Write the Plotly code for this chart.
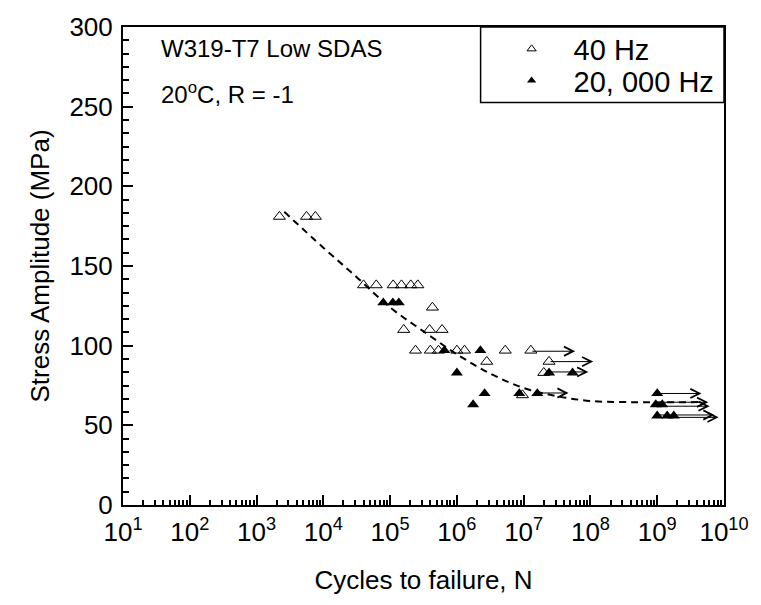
import numpy as np
import plotly.graph_objects as go

# ---------------- data ----------------
# 40 Hz (open triangles)
n_40 = [2.2e3, 5.6e3, 7.6e3,
        4.0e4, 6.2e4, 1.11e5, 1.48e5, 2.04e5, 2.6e5,
        4.3e5,
        1.6e5, 3.9e5, 6.0e5,
        2.4e5, 4.0e5, 5.3e5, 1.0e6, 1.3e6, 5.3e6, 1.28e7,
        2.8e6, 2.4e7,
        2.0e7,
        9.6e6]
s_40 = [181, 181, 181,
        138, 138, 138, 138, 138, 138,
        124,
        110, 110, 110,
        97, 97, 97, 97, 97, 97, 97,
        90, 90,
        83,
        69]

# 20,000 Hz (filled triangles)
n_20k = [7.9e4, 1.1e5, 1.35e5,
         6.5e5, 2.25e6,
         1.0e6, 2.4e7, 5.4e7,
         2.6e6, 8.6e6, 1.6e7,
         1.75e6,
         1.0e9,
         9.5e8, 1.19e9,
         1.0e9, 1.41e9, 1.77e9]
s_20k = [127, 127, 127,
         97, 97,
         83, 83, 83,
         70, 70, 70,
         63,
         70,
         63, 63,
         56, 56, 56]

# run-outs (arrows)
run_start = [1.28e7, 2.4e7, 2.4e7, 1.6e7, 1.0e9, 9.5e8, 1.19e9, 1.0e9, 1.77e9]
run_end = [5.9e7, 1.1e8, 9.3e7, 4.7e7, 4.6e9, 5.8e9, 6.1e9, 7.2e9, 8.3e9]
run_s = [96.5, 90, 83.5, 70.3, 70, 64.5, 62, 56.5, 55]

# fitted trend (dashed)
fit_n = [2.6e3, 1e4, 3.16e4, 1e5, 3.16e5, 1e6, 3.16e6, 1e7, 3.16e7, 1e8, 3.16e8, 1e9, 4.1e9]
fit_s = [184, 161.5, 143, 124, 109, 94.6, 82.5, 73.4, 68.3, 65.3, 64.6, 64.4, 64.6]

# axis ticks
x_tickvals = [10 ** k for k in range(1, 11)]
x_ticktext = ["10<sup>%d</sup>" % k for k in range(1, 11)]
x_minor = [m * 10 ** k for k in range(1, 10) for m in range(2, 10)]
y_tickvals = [0, 50, 100, 150, 200, 250, 300]

FONT = "Liberation Sans, Arial, sans-serif"

fig = go.Figure()

fig.add_trace(go.Scatter(
    x=fit_n, y=fit_s, mode="lines", line=dict(color="black", width=2, dash="7px,5px", shape="spline"),
    showlegend=False, hoverinfo="skip"))

fig.add_trace(go.Scatter(
    x=n_40, y=s_40, mode="markers", name="40 Hz", showlegend=False,
    marker=dict(symbol="triangle-up-open", size=10.5, color="black", line=dict(width=1, color="black"))))

fig.add_trace(go.Scatter(
    x=n_20k, y=s_20k, mode="markers", name="20, 000 Hz", showlegend=False,
    marker=dict(symbol="triangle-up", size=10.5, color="black", line=dict(width=0))))

# legend-only entries with small symbols
fig.add_trace(go.Scatter(
    x=[None], y=[None], mode="markers", name="40 Hz", legend="legend",
    marker=dict(symbol="triangle-up-open", size=8, color="black", line=dict(width=1, color="black"))))
fig.add_trace(go.Scatter(
    x=[None], y=[None], mode="markers", name="20, 000 Hz", legend="legend2",
    marker=dict(symbol="triangle-up", size=8, color="black")))

annotations = []
for a, b, s in zip(run_start, run_end, run_s):
    annotations.append(dict(
        x=np.log10(b), y=s, ax=np.log10(a), ay=s, xref="x", yref="y", axref="x", ayref="y",
        text="", showarrow=True, arrowhead=5, arrowsize=1.8, arrowwidth=1, arrowcolor="black",
        standoff=0, startstandoff=0))

annotations.append(dict(x=0.06, y=0.956, xref="paper", yref="paper", xanchor="left", yanchor="middle",
                        text="W319-T7 Low SDAS", showarrow=False, font=dict(family=FONT, size=24, color="black")))
annotations.append(dict(x=0.06, y=0.861, xref="paper", yref="paper", xanchor="left", yanchor="middle",
                        text="20<sup>o</sup>C, R = -1", showarrow=False, font=dict(family=FONT, size=24, color="black")))

leg_common = dict(xanchor="left", yanchor="middle", bgcolor="rgba(0,0,0,0)", borderwidth=0,
                  itemwidth=74, font=dict(family=FONT, size=29, color="black"))

fig.update_layout(
    width=761, height=605,
    margin=dict(l=123, r=28, t=22, b=100),
    paper_bgcolor="white", plot_bgcolor="white",
    font=dict(family=FONT, size=26, color="black"),
    annotations=annotations,
    shapes=[dict(type="rect", xref="paper", yref="paper", x0=0.595, x1=1.0, y0=0.842, y1=1.0,
                 line=dict(color="black", width=1.5), fillcolor="rgba(0,0,0,0)")],
    legend=dict(x=0.61, y=0.954, **leg_common),
    legend2=dict(x=0.61, y=0.888, **leg_common),
    xaxis=dict(type="log", range=[1, 10], showgrid=False, zeroline=False,
               showline=True, linewidth=2, linecolor="black", mirror=True,
               ticks="inside", ticklen=10, tickwidth=2, tickcolor="black",
               tickmode="array", tickvals=x_tickvals, ticktext=x_ticktext,
               ticklabelstandoff=3, tickfont=dict(size=26),
               minor=dict(ticks="inside", ticklen=5, tickwidth=1.5, tickcolor="black", tickvals=x_minor),
               title=dict(text="Cycles to failure, N", standoff=25, font=dict(size=26))),
    yaxis=dict(range=[0, 300], showgrid=False, zeroline=False,
               showline=True, linewidth=2, linecolor="black", mirror=True,
               ticks="inside", ticklen=10, tickwidth=2, tickcolor="black",
               tickmode="array", tickvals=y_tickvals,
               ticklabelstandoff=3, tickfont=dict(size=26),
               minor=dict(ticks="inside", ticklen=6, tickwidth=1.5, tickcolor="black", dtick=50 / 6, tick0=0),
               title=dict(text="Stress Amplitude (MPa)", standoff=12, font=dict(size=26))),
)

fig.write_html("out.html")
